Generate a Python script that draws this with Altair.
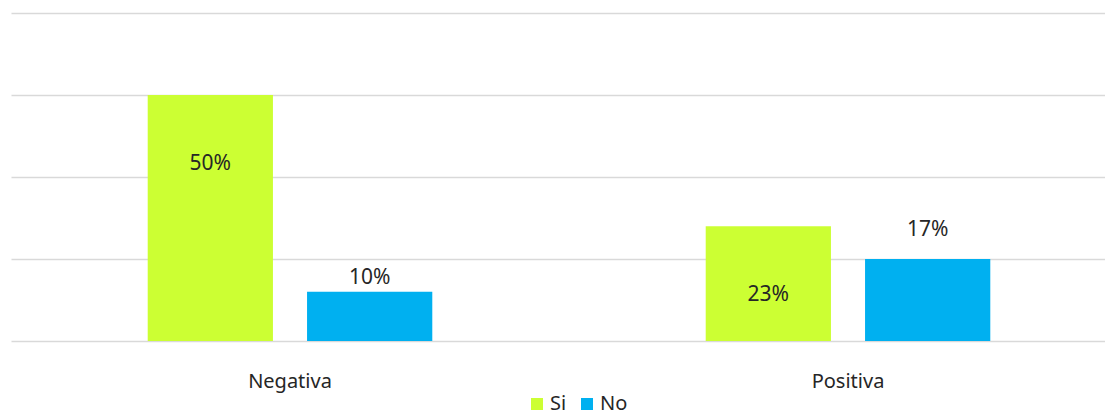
import altair as alt
import pandas as pd

categories = ["Negativa", "Negativa", "Positiva", "Positiva"]
series = ["Si", "No", "Si", "No"]
counts = [15, 3, 7, 5]
labels = ["50%", "10%", "23%", "17%"]

series_order = ["Si", "No"]
colors = ["#CCFF33", "#00B0F0"]
font = "Noto Sans"

df = pd.DataFrame({"cat": categories, "serie": series, "n": counts, "label": labels})

x_enc = alt.X("cat:N", title=None, sort=["Negativa", "Positiva"],
              scale=alt.Scale(range=[0, 1116], paddingInner=0.49, paddingOuter=0.245),
              axis=alt.Axis(ticks=False, domain=False, labelPadding=30, labelFontSize=20,
                            labelFont=font, labelColor="#262626", labelAngle=0, grid=False))
xoff = alt.XOffset("serie:N", sort=series_order,
                   scale=alt.Scale(paddingInner=0.214, paddingOuter=0))
y_enc = alt.Y("n:Q", title=None,
              scale=alt.Scale(domain=[0, 20], nice=False),
              axis=alt.Axis(values=[0, 5, 10, 15, 20], labels=False, ticks=False, domain=False,
                            gridColor="#d9d9d9", gridWidth=1.5))

base = alt.Chart(df)

bars = base.mark_bar().encode(
    x=x_enc, xOffset=xoff, y=y_enc,
    color=alt.Color("serie:N", sort=series_order,
                    scale=alt.Scale(domain=series_order, range=colors),
                    legend=alt.Legend(title=None, orient="none", legendX=516, legendY=381,
                                      direction="horizontal",
                                      symbolType="square", symbolSize=144, labelFontSize=20,
                                      labelFont=font, labelColor="#262626",
                                      columnPadding=10, labelOffset=3, symbolStrokeWidth=0)),
)

def text_layer(filt, dy):
    return base.transform_filter(filt).mark_text(
        dy=dy, fontSize=21, font=font, color="#262626", baseline="middle"
    ).encode(x=alt.X("cat:N", sort=["Negativa", "Positiva"]), xOffset=alt.XOffset("serie:N", sort=series_order),
             y=alt.Y("n:Q"), text="label:N")

t_si = text_layer("datum.serie == 'Si'", 69)
t_no1 = text_layer("datum.serie == 'No' && datum.cat == 'Negativa'", -14)
t_no2 = text_layer("datum.serie == 'No' && datum.cat == 'Positiva'", -29)

chart = alt.layer(bars, t_si, t_no1, t_no2).properties(
    width=1094, height=328,
    autosize=alt.AutoSizeParams(type="none"),
    padding={"left": 3, "top": 5, "right": 0, "bottom": 80}
).configure_view(stroke=None)

chart.save("out.html", embed_options={"renderer": "svg", "actions": False})
